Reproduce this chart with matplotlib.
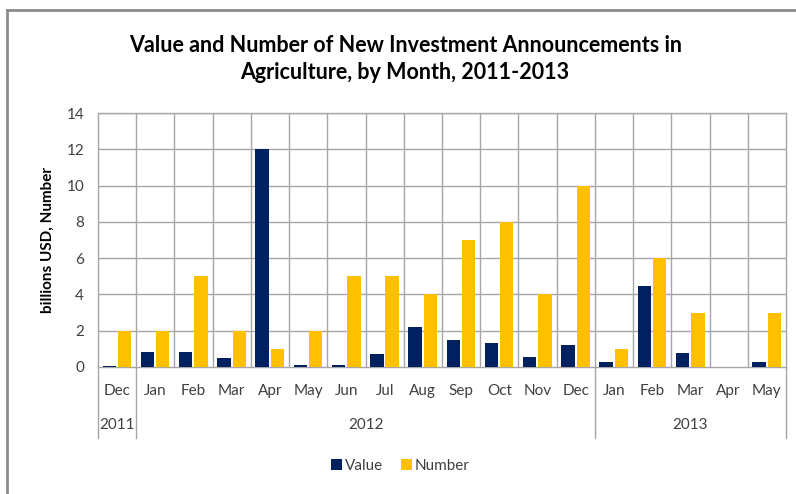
import matplotlib.pyplot as plt
from matplotlib.lines import Line2D
import numpy as np

months = ['Dec', 'Jan', 'Feb', 'Mar', 'Apr', 'May', 'Jun', 'Jul', 'Aug',
          'Sep', 'Oct', 'Nov', 'Dec', 'Jan', 'Feb', 'Mar', 'Apr', 'May']
years = ['2011', '2012', '2013']
year_spans = [(0, 1), (1, 13), (13, 18)]

value = [0.05, 0.8, 0.8, 0.5, 12.0, 0.1, 0.1, 0.7, 2.2,
         1.5, 1.3, 0.55, 1.2, 0.25, 4.45, 0.75, 0.0, 0.3]
number = [2, 2, 5, 2, 1, 2, 5, 5, 4, 7, 8, 4, 10, 1, 6, 3, 0, 3]

navy = '#002060'
gold = '#FFC000'
grid = '#A6A6A6'
txt = '#404040'

plt.rcParams['font.family'] = ['Lato', 'DejaVu Sans']

fig = plt.figure(figsize=(7.96, 4.94), dpi=100)
ax = fig.add_axes([98/796, 1-367/494, 688/796, 254/494])

x = np.arange(len(months)) + 0.5
w = 0.35
ax.bar(x - 0.205, value, w, color=navy, label='Value', zorder=3)
ax.bar(x + 0.195, number, w, color=gold, label='Number', zorder=3)

ax.set_xlim(0, len(months))
ax.set_ylim(0, 14)
ax.set_yticks(range(0, 15, 2))
ax.set_xticks([])
ax.tick_params(axis='y', length=0, labelsize=11, colors=txt, pad=10)
for y in range(2, 15, 2):
    ax.axhline(y, color=grid, lw=1, zorder=1)
for i in range(1, len(months)):
    ax.axvline(i, color=grid, lw=1, zorder=1)
for s in ax.spines.values():
    s.set_color(grid)
    s.set_linewidth(1)

ax.set_ylabel('billions USD, Number', fontsize=11, fontweight='bold',
              color='black', labelpad=8)

# two-level category labels below the axis
for xi, m in zip(x, months):
    ax.text(xi, -0.095, m, transform=ax.get_xaxis_transform(),
            ha='center', va='center', fontsize=11, color=txt)
for (a, b), yr in zip(year_spans, years):
    ax.text((a + b) / 2, -0.23, yr, transform=ax.get_xaxis_transform(),
            ha='center', va='center', fontsize=11, color=txt)
for xb in [0, 1, 13, 18]:
    ax.plot([xb, xb], [0, -0.28], transform=ax.get_xaxis_transform(),
            color=grid, lw=1, clip_on=False)

fig.text(0.509, 1-45/494, 'Value and Number of New Investment Announcements in',
         ha='center', va='center', fontsize=15.5, fontweight='bold')
fig.text(0.509, 1-72/494, 'Agriculture, by Month, 2011-2013',
         ha='center', va='center', fontsize=15.5, fontweight='bold')

fig.legend(loc='center', bbox_to_anchor=(0.503, 1-466/494), ncol=2,
           frameon=False, fontsize=11, handlelength=0.7, handleheight=0.7,
           handletextpad=0.2, columnspacing=1.2, labelcolor=txt)

# outer chart frame (left and top edges)
fig.add_artist(Line2D([7/796, 7/796], [0, 1-10/494], transform=fig.transFigure,
                      color='#8C8C8C', lw=2))
fig.add_artist(Line2D([7/796, 1], [1-10/494, 1-10/494], transform=fig.transFigure,
                      color='#8C8C8C', lw=2))

fig.savefig('out.png', dpi=100)
